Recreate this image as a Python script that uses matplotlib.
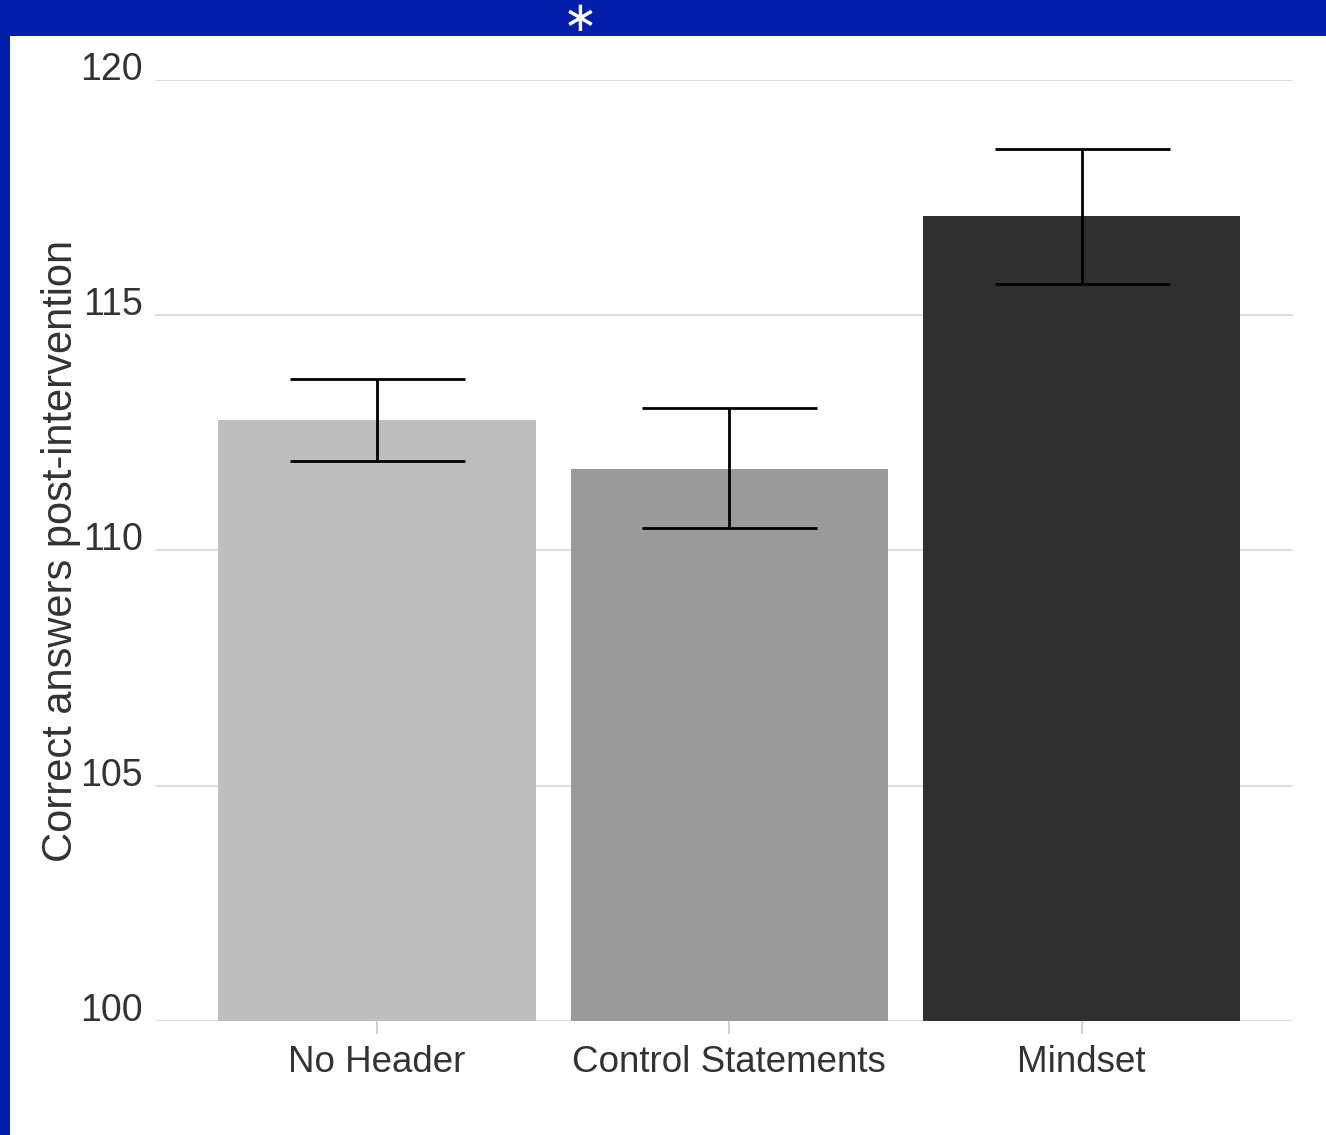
import matplotlib.pyplot as plt
import matplotlib.patches as mpatches

# Data
groups = ['No Header', 'Control Statements', 'Mindset']
means = [112.77, 111.73, 117.11]
err_low = [111.90, 110.48, 115.66]
err_high = [113.65, 113.03, 118.53]
bar_colors = ['#bebebe', '#9a9a9a', '#2f2f2f']

plt.rcParams['font.family'] = ['Liberation Sans', 'DejaVu Sans']

fig = plt.figure(figsize=(13.26, 11.35), dpi=100, facecolor='#021eaa')

# white slide panel inside the blue frame
panel = mpatches.Rectangle((10 / 1326, 0), 1 - 10 / 1326, 1 - 36 / 1135,
                           transform=fig.transFigure, facecolor='white',
                           edgecolor='none', zorder=-10)
fig.patches.append(panel)
fig.text(580 / 1326, 1 - 19 / 1135, '\u2217', color='white', fontsize=30,
         ha='center', va='center', family='DejaVu Sans')

ax = fig.add_axes([155 / 1326, 1 - 1021 / 1135, (1293 - 155) / 1326, (1021 - 80) / 1135])
ax.set_facecolor('none')

x = list(range(len(groups)))
ax.bar(x, [m - 100 for m in means], bottom=100, width=0.9, color=bar_colors, zorder=2)

lower = [m - lo for m, lo in zip(means, err_low)]
upper = [hi - m for m, hi in zip(means, err_high)]
ax.errorbar(x, means, yerr=[lower, upper], fmt='none', ecolor='black',
            elinewidth=2, capsize=63, capthick=2, zorder=3)

ax.set_xlim(-0.63, 2.60)
ax.set_ylim(100, 120)
ax.set_yticks([100, 105, 110, 115, 120])
ax.set_xticks(x)
ax.set_xticklabels(groups)

ax.grid(axis='y', color='#dedede', linewidth=1.5, zorder=1)
ax.grid(axis='x', visible=False)
ax.set_axisbelow(True)
for s in ax.spines.values():
    s.set_visible(False)

ax.tick_params(axis='y', length=0, pad=9, labelsize=27, labelcolor='#333333')
ax.tick_params(axis='x', length=9, width=1.5, color='#d0d0d0', pad=8,
               labelsize=26.5, labelcolor='#333333')
for lab in ax.get_yticklabels():
    lab.set_va('baseline')

ax.set_ylabel('Correct answers post-intervention', fontsize=30, color='#333333')
ax.yaxis.set_label_coords(-0.065, 0.5)

fig.savefig('out.png', dpi=100, facecolor=fig.get_facecolor())
